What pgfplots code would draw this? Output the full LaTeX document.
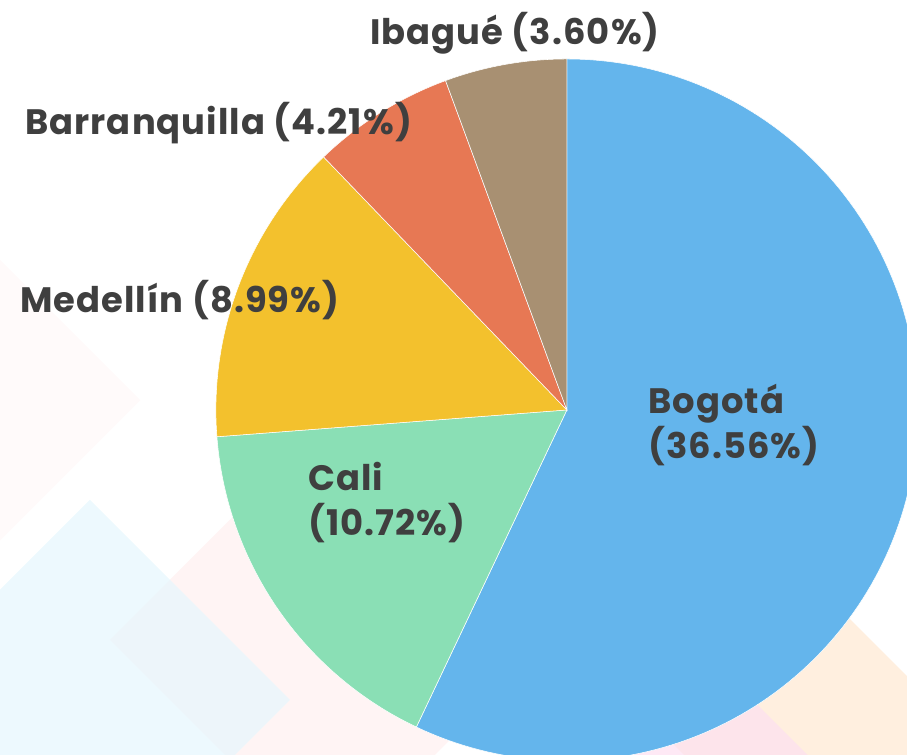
\documentclass[border=0pt]{standalone}
\usepackage{pgfplots}
\pgfplotsset{compat=1.18}
\usepackage{fontspec}
\setmainfont{Poppins}[LetterSpace=3]
\definecolor{cBog}{HTML}{64B5EC}
\definecolor{cCal}{HTML}{8ADFB5}
\definecolor{cMed}{HTML}{F3C12D}
\definecolor{cBar}{HTML}{E77854}
\definecolor{cIba}{HTML}{A89072}
\definecolor{txt}{HTML}{3F3F3F}
\tikzset{lbl/.style={font=\fontsize{26.5}{33.75}\selectfont\bfseries, text=txt, inner sep=0pt}}
% data (share of total, %)
\def\vBog{36.56}
\def\vCal{10.72}
\def\vMed{8.99}
\def\vBar{4.21}
\def\vIba{3.60}
\pgfmathsetmacro{\tot}{\vBog+\vCal+\vMed+\vBar+\vIba}
\pgfmathsetmacro{\aA}{90-360*\vBog/\tot}
\pgfmathsetmacro{\aB}{\aA-360*\vCal/\tot}
\pgfmathsetmacro{\aC}{\aB-360*\vMed/\tot}
\pgfmathsetmacro{\aD}{\aC-360*\vBar/\tot}
\pgfmathsetmacro{\aE}{\aD-360*\vIba/\tot}
\begin{document}
\begin{tikzpicture}
\begin{axis}[
  scale only axis, width=680.25pt, height=566.25pt,
  xmin=-1.615, xmax=0.969, ymin=-0.983, ymax=1.168,
  axis lines=none, clip=true,
]
% faint background pattern
\fill[fill=pink!28!white, opacity=0.6] (axis cs:-1.302,-0.655) -- (axis cs:-0.675,-0.028) -- (axis cs:-0.048,-0.655) -- (axis cs:-0.675,-1.282) -- cycle;
\fill[fill=cyan!10!white, opacity=0.7] (axis cs:-1.929,-0.826) -- (axis cs:-1.359,-0.256) -- (axis cs:-0.789,-0.826) -- (axis cs:-1.359,-1.396) -- cycle;
\fill[fill=pink!12!white, opacity=0.6] (axis cs:-2.015,0.028) -- (axis cs:-1.615,0.428) -- (axis cs:-1.215,0.028) -- (axis cs:-1.615,-0.372) -- cycle;
\fill[fill=orange!18!white, opacity=0.7] (axis cs:0.291,-0.940) -- (axis cs:0.721,-0.510) -- (axis cs:1.151,-0.940) -- (axis cs:0.721,-1.370) -- cycle;
\fill[fill=magenta!12!white, opacity=0.7] (axis cs:0.029,-1.026) -- (axis cs:0.379,-0.676) -- (axis cs:0.729,-1.026) -- (axis cs:0.379,-1.376) -- cycle;
% pie slices
\addplot[fill=cBog, draw=white, line width=0.4pt, domain=\aA:90, samples=150] ({cos(x)},{sin(x)}) -- (axis cs:0,0) -- cycle;
\addplot[fill=cCal, draw=white, line width=0.4pt, domain=\aB:\aA, samples=60] ({cos(x)},{sin(x)}) -- (axis cs:0,0) -- cycle;
\addplot[fill=cMed, draw=white, line width=0.4pt, domain=\aC:\aB, samples=60] ({cos(x)},{sin(x)}) -- (axis cs:0,0) -- cycle;
\addplot[fill=cBar, draw=white, line width=0.4pt, domain=\aD:\aC, samples=40] ({cos(x)},{sin(x)}) -- (axis cs:0,0) -- cycle;
\addplot[fill=cIba, draw=white, line width=0.4pt, domain=\aE:\aD, samples=40] ({cos(x)},{sin(x)}) -- (axis cs:0,0) -- cycle;
% labels
\node[lbl, anchor=center] at (axis cs:-0.148,1.074) {Ibagué (3.60\%)};
\node[lbl, anchor=west] at (axis cs:-1.544,0.818) {Barranquilla (4.21\%)};
\node[lbl, anchor=west] at (axis cs:-1.558,0.313) {Medellín (8.99\%)};
\node[lbl, anchor=west, align=left] at (axis cs:0.231,-0.043) {Bogotá\\(36.56\%)};
\node[lbl, anchor=west, align=left] at (axis cs:-0.738,-0.265) {Cali\\(10.72\%)};
\end{axis}
\pgfresetboundingbox
\path[use as bounding box] (current axis.south west) rectangle (current axis.north east);
\end{tikzpicture}
\end{document}
